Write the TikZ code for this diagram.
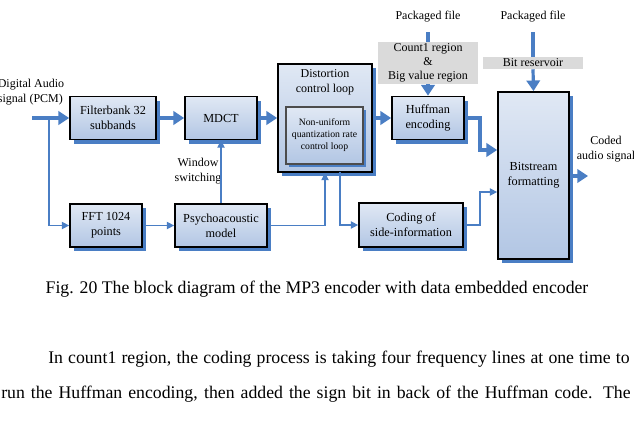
\documentclass[tikz,border=0pt]{standalone}
\usepackage{fontspec}
\setmainfont{Liberation Serif}
\usetikzlibrary{shadows,arrows.meta}
\definecolor{ablue}{RGB}{74,126,196}
\definecolor{boxr}{RGB}{178,198,228}
\definecolor{gbox}{RGB}{218,218,218}
\begin{document}
\begin{tikzpicture}[x=0.75pt,y=-0.75pt,
  sz/.style 2 args={minimum width={#1*0.75pt},minimum height={#2*0.75pt}},
  blk/.style={draw=black,line width=1.3pt,top color=white!60!boxr,bottom color=boxr,
    drop shadow={shadow xshift=3pt,shadow yshift=-3pt,fill=ablue,opacity=1},
    align=center,font=\fontsize{9.2}{11}\selectfont,inner sep=0pt},
  thk/.style={ablue,line width=2.4pt,-{Triangle[length=8pt,width=10pt]}},
  thn/.style={ablue,line width=1pt,-{Triangle[length=5.5pt,width=5.5pt]}},
  lbl/.style={align=center,font=\fontsize{9}{11}\selectfont,inner sep=0pt},
  gb/.style={fill=gbox,align=center,font=\fontsize{9}{10.5}\selectfont,inner sep=0pt}]
\useasboundingbox (0,0) rectangle (634,421);
% gray labels first
\node[gb,sz={100}{42}] (cnt) at (428,63) {Count1 region\\\&\\Big value region};
\node[gb,sz={100}{12}] (bres) at (533,63) {Bit reservoir};
% blocks
\node[blk,sz={86}{43}] (fb) at (113,118) {Filterbank 32\\subbands};
\node[blk,sz={72}{43}] (mdct) at (221,118) {MDCT};
\node[blk,sz={94}{108}] (dist) at (325,118) {};
\node[lbl] (dtxt) at (325,82) {Distortion\\control loop};
\node[draw=black!70,line width=0.8pt,top color=white!60!boxr,bottom color=boxr,
  sz={77}{57},inner sep=0pt,align=center,
  font=\fontsize{7.3}{9}\selectfont,
  drop shadow={shadow xshift=2pt,shadow yshift=-2pt,fill=ablue,opacity=1}] (nu) at (324.5,135.5) {Non-uniform\\quantization rate\\control loop};
\node[blk,sz={72}{43}] (huff) at (428,118) {Huffman\\encoding};
\node[blk,sz={71}{167}] (bs) at (533.5,175.5) {Bitstream\\formatting};
\node[blk,sz={72}{43}] (fft) at (106,225.5) {FFT 1024\\points};
\node[blk,sz={92}{43}] (psy) at (221,225.5) {Psychoacoustic\\model};
\node[blk,sz={104}{44}] (side) at (411,225) {Coding of\\side-information};
% labels
\node[lbl,align=left] (din) at (31,92) {Digital Audio\\signal (PCM)};
\node[lbl] (pf1) at (428,17) {Packaged file};
\node[lbl] (pf2) at (533,17) {Packaged file};
\node[lbl] (ws) at (198,171) {Window\\switching};
\node[lbl] (cod) at (606,149) {Coded\\audio signal};
\coordinate (in) at (32,118);
\coordinate (out) at (588,176);
\coordinate (p1) at (428,32);
\coordinate (p2) at (533,32);
% connectors
\draw[thk] (in) -- (fb);
\draw[thn] (49,118) |- (fft);
\draw[thk] (fb) -- (mdct);
\draw[thk] (mdct) -- (dist);
\draw[thk] (dist.east|-huff) -- (huff);
\draw[thk] (huff.east) -- (480,118) -- (480,150) -- (bs.west|-0,150);
\draw[thn] (fft) -- (psy);
\draw[thn] (psy.north) -- (mdct.south);
\draw[thn] (psy.east) -- (325,225.5) -- (dist.south);
\draw[thn] (340,172) |- (side.west);
\draw[thn] (side.east) -- (480,225) -- (480,192) -- (bs.west|-0,192);
\draw[thk] (bs.east|-out) -- (out);
\draw[ablue,line width=2.4pt] (p1) -- (cnt.north);
\draw[thk] (cnt.south) -- (huff.north);
\draw[ablue,line width=2.4pt] (p2) -- (bres.north);
\draw[thk] (bres.south) -- (bs.north);
% caption and text
\node[font=\fontsize{13.3}{16}\selectfont,inner sep=0pt] (cap) at (317,289) {Fig. 20 The block diagram of the MP3 encoder with data embedded encoder};
\node[font=\fontsize{13.3}{16}\selectfont,inner sep=0pt,anchor=west] (l1) at (48,359) {\makebox[436pt][s]{In count1 region, the coding process is taking four frequency lines at one time to}};
\node[font=\fontsize{13.3}{16}\selectfont,inner sep=0pt,anchor=west] (l2) at (1,394) {\makebox[472pt][s]{run the Huffman encoding, then added the sign bit in back of the Huffman code. The}};
\end{tikzpicture}
\end{document}
